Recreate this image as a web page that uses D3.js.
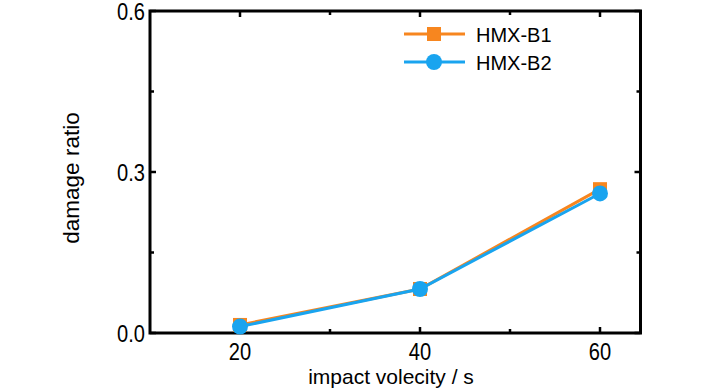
<!DOCTYPE html>
<html><head><meta charset="utf-8">
<script src="https://cdn.jsdelivr.net/npm/d3@7"></script>
<style>body{margin:0;background:#fff}svg{display:block}text{font-family:"Liberation Sans",Arial,sans-serif}</style>
</head><body>
<svg id="c" width="728" height="390"></svg>
<script>
const velocity = [20, 40, 60];
const hmxB1 = [0.015, 0.082, 0.268];
const hmxB2 = [0.012, 0.082, 0.260];
const seriesNames = ["HMX-B1", "HMX-B2"];
const xTicks = [20, 40, 60];
const xMinor = [30, 50];
const yTicks = [0.0, 0.3, 0.6];
const yMinor = [0.15, 0.45];

const svg = d3.select("#c");
const L = 150, R = 640.5, T = 11, B = 333;
const x = d3.scaleLinear().domain([10, 64.5]).range([L, R]);
const y = d3.scaleLinear().domain([0, 0.6]).range([B, T]);
const orange = "#f7861f", blue = "#19a4ef";

// ticks (inward) on all sides
const tk = svg.append("g").attr("stroke", "#000").attr("stroke-width", 2.5);
[...xTicks, ...xMinor].forEach(v => {
  const len = xTicks.includes(v) ? 6 : 4;
  tk.append("line").attr("x1", x(v)).attr("x2", x(v)).attr("y1", B).attr("y2", B - len);
  tk.append("line").attr("x1", x(v)).attr("x2", x(v)).attr("y1", T).attr("y2", T + len);
});
[...yTicks, ...yMinor].forEach(v => {
  const len = yTicks.includes(v) ? 6 : 4;
  tk.append("line").attr("y1", y(v)).attr("y2", y(v)).attr("x1", L).attr("x2", L + len);
  tk.append("line").attr("y1", y(v)).attr("y2", y(v)).attr("x1", R).attr("x2", R - len);
});
svg.append("rect").attr("x", L).attr("y", T).attr("width", R - L).attr("height", B - T)
  .attr("fill", "none").attr("stroke", "#000").attr("stroke-width", 3);

// tick labels (condensed look)
svg.append("g").selectAll("text").data(xTicks).join("text")
  .attr("transform", d => `translate(${x(d)},360) scale(0.82,1)`).attr("text-anchor", "middle")
  .attr("font-size", 24.5).text(d => d);
svg.append("g").selectAll("text").data(yTicks).join("text")
  .attr("transform", d => `translate(145,${y(d) + 8.5}) scale(0.82,1)`).attr("text-anchor", "end")
  .attr("font-size", 24.5).text(d => d.toFixed(1));

// axis titles
svg.append("text").attr("x", 391).attr("y", 384).attr("text-anchor", "middle")
  .attr("font-size", 21).text("impact volecity / s");
svg.append("text").attr("transform", "translate(79,178) rotate(-90)")
  .attr("text-anchor", "middle").attr("font-size", 22.5).text("damage ratio");

const line = d3.line().x((d, i) => x(velocity[i])).y(d => y(d));
// series 1
svg.append("path").datum(hmxB1).attr("d", line).attr("fill", "none").attr("stroke", orange).attr("stroke-width", 3);
svg.append("g").selectAll("rect").data(hmxB1).join("rect")
  .attr("x", (d, i) => x(velocity[i]) - 7).attr("y", d => y(d) - 7)
  .attr("width", 14).attr("height", 14).attr("fill", orange);
// series 2
svg.append("path").datum(hmxB2).attr("d", line).attr("fill", "none").attr("stroke", blue).attr("stroke-width", 3);
svg.append("g").selectAll("circle").data(hmxB2).join("circle")
  .attr("cx", (d, i) => x(velocity[i])).attr("cy", d => y(d)).attr("r", 8).attr("fill", blue);

// legend
const lg = svg.append("g");
[orange, blue].forEach((c, i) => {
  const ly = 34 + i * 28;
  lg.append("line").attr("x1", 404).attr("x2", 465).attr("y1", ly).attr("y2", ly).attr("stroke", c).attr("stroke-width", 3);
  if (i === 0) lg.append("rect").attr("x", 427).attr("y", ly - 7).attr("width", 14).attr("height", 14).attr("fill", c);
  else lg.append("circle").attr("cx", 434).attr("cy", ly).attr("r", 8).attr("fill", c);
  lg.append("text").attr("x", 476).attr("y", ly + 7.5).attr("font-size", 20).text(seriesNames[i]);
});
</script>
</body></html>
